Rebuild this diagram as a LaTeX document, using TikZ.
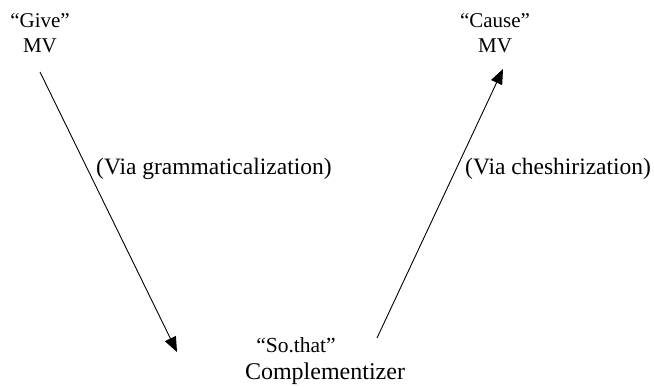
\documentclass[tikz,border=0pt]{standalone}
\usepackage{fontspec}
\setmainfont{Liberation Serif}
\usetikzlibrary{arrows.meta}
\tikzset{
  toptxt/.style={inner sep=0pt, align=center, font=\fontsize{21}{25}\selectfont},
  bottxt/.style={inner sep=0pt, align=center, font=\fontsize{24}{27}\selectfont},
  lbl/.style={inner sep=0pt, anchor=west, font=\fontsize{23.5}{27}\selectfont},
  arr/.style={line width=0.9pt, -{Triangle[length=15pt,width=12pt]}}
}
\begin{document}
\begin{tikzpicture}[x=1pt,y=-1pt]
\useasboundingbox (0,0) rectangle (654,386);
\node[toptxt] (give) at (40,33.5) {“Give”\\MV};
\node[toptxt] (cause) at (495,33.5) {“Cause”\\MV};
\node[bottxt] (sothat) at (325,361) {{\fontsize{21.5}{27}\selectfont “So.that”}\hspace*{58pt}\\Complementizer};
\coordinate (g1) at (40,72);
\coordinate (g2) at (177,352);
\coordinate (c1) at (377,338);
\coordinate (c2) at (503,69);
\draw[arr] (g1) -- (g2);
\draw[arr] (c1) -- (c2);
\node[lbl] (via1) at (96,169) {(Via grammaticalization)};
\node[lbl] (via2) at (465,169) {(Via cheshirization)};
\end{tikzpicture}
\end{document}
